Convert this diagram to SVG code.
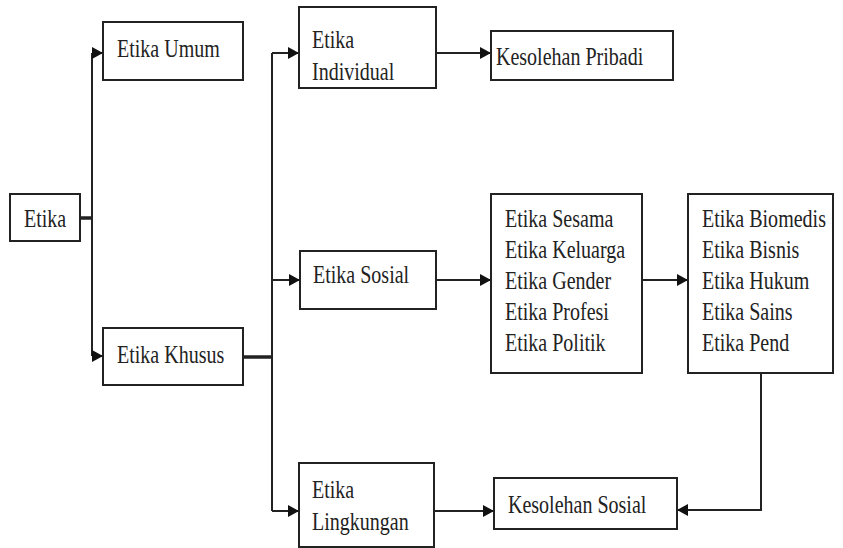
<svg xmlns="http://www.w3.org/2000/svg" width="843" height="548" viewBox="0 0 843 548">
<style>
.box{fill:#fff;stroke:#222;stroke-width:2}
.t{font-family:"Liberation Serif","Times New Roman",serif;font-size:26px;fill:#222}
.c{fill:none;stroke:#222;stroke-width:2}
.thick{fill:none;stroke:#222;stroke-width:3.5}
.a{marker-end:url(#arr)}
</style>
<defs>
<marker id="arr" markerUnits="userSpaceOnUse" markerWidth="12" markerHeight="14" viewBox="0 0 12 14" refX="11" refY="7" orient="auto">
<path d="M0,1 L11,7 L0,13 Z" fill="#111"/>
</marker>
</defs>
<rect width="843" height="548" fill="#fff"/>
<g id="connectors">
<path class="thick" d="M80,218 H92"/>
<path class="c" d="M92,53 V356"/>
<path class="c a" d="M92,53 H103"/>
<path class="c a" d="M92,356 H103"/>
<path class="thick" d="M243,357 H272"/>
<path class="c" d="M272,53 V511"/>
<path class="c a" d="M272,53 H299"/>
<path class="c a" d="M272,280 H300"/>
<path class="c a" d="M272,511 H299"/>
<path class="c a" d="M436,53 H491"/>
<path class="c a" d="M436,280 H491"/>
<path class="c a" d="M642,280 H688"/>
<path class="c a" d="M434,511 H494"/>
<path class="c a" d="M761,373 V510 H677"/>
</g>
<g id="etika">
<rect class="box" x="10" y="194" width="70" height="47"/>
<text class="t" transform="translate(24,227) scale(0.77,1)">Etika</text>
</g>
<g id="etika-umum">
<rect class="box" x="103" y="22" width="140" height="58"/>
<text class="t" transform="translate(117,57) scale(0.77,1)">Etika Umum</text>
</g>
<g id="etika-khusus">
<rect class="box" x="103" y="328" width="140" height="57"/>
<text class="t" transform="translate(117,363) scale(0.77,1)">Etika Khusus</text>
</g>
<g id="etika-individual">
<rect class="box" x="299" y="7" width="137" height="81"/>
<text class="t" transform="translate(312,48) scale(0.77,1)">Etika</text>
<text class="t" transform="translate(312,80) scale(0.77,1)">Individual</text>
</g>
<g id="kesolehan-pribadi">
<rect class="box" x="491" y="31" width="182" height="49"/>
<text class="t" transform="translate(496,65) scale(0.77,1)">Kesolehan Pribadi</text>
</g>
<g id="etika-sosial">
<rect class="box" x="300" y="251" width="136" height="58"/>
<text class="t" transform="translate(313,283) scale(0.77,1)">Etika Sosial</text>
</g>
<g id="list-sosial">
<rect class="box" x="491" y="194" width="151" height="179"/>
<text class="t" transform="translate(505,227) scale(0.77,1)">Etika Sesama</text>
<text class="t" transform="translate(505,258) scale(0.77,1)">Etika Keluarga</text>
<text class="t" transform="translate(505,289) scale(0.77,1)">Etika Gender</text>
<text class="t" transform="translate(505,320) scale(0.77,1)">Etika Profesi</text>
<text class="t" transform="translate(505,351) scale(0.77,1)">Etika Politik</text>
</g>
<g id="list-bidang">
<rect class="box" x="688" y="194" width="145" height="179"/>
<text class="t" transform="translate(702,227) scale(0.77,1)">Etika Biomedis</text>
<text class="t" transform="translate(702,258) scale(0.77,1)">Etika Bisnis</text>
<text class="t" transform="translate(702,289) scale(0.77,1)">Etika Hukum</text>
<text class="t" transform="translate(702,320) scale(0.77,1)">Etika Sains</text>
<text class="t" transform="translate(702,351) scale(0.77,1)">Etika Pend</text>
</g>
<g id="etika-lingkungan">
<rect class="box" x="299" y="463" width="135" height="84"/>
<text class="t" transform="translate(312,498) scale(0.77,1)">Etika</text>
<text class="t" transform="translate(312,530) scale(0.77,1)">Lingkungan</text>
</g>
<g id="kesolehan-sosial">
<rect class="box" x="494" y="478" width="183" height="51"/>
<text class="t" transform="translate(508,513) scale(0.77,1)">Kesolehan Sosial</text>
</g>
</svg>
